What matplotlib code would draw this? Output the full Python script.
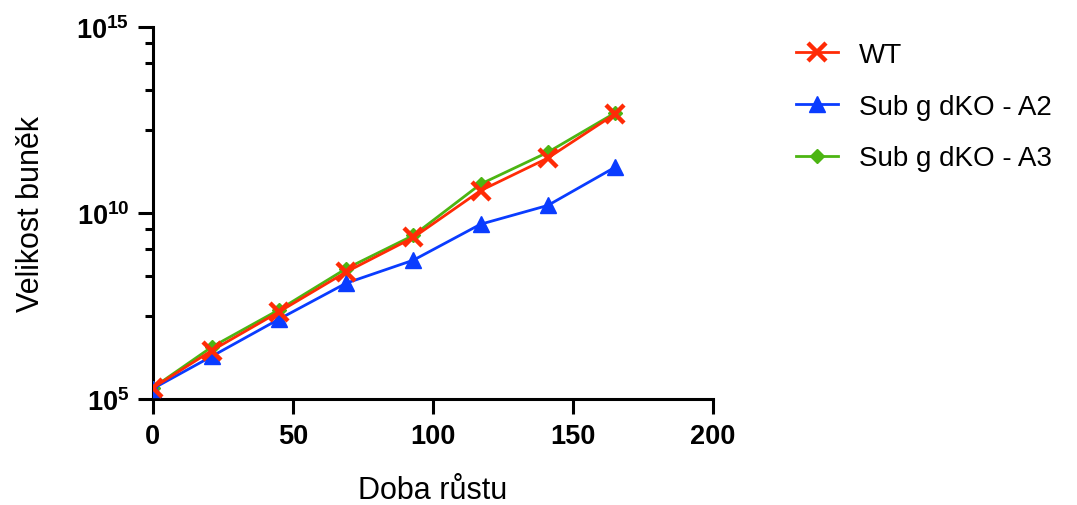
import numpy as np
import matplotlib
matplotlib.use("Agg")
import matplotlib.pyplot as plt
from matplotlib.ticker import FixedLocator, FixedFormatter, NullFormatter

plt.rcParams['font.family'] = ['Liberation Sans', 'DejaVu Sans']
plt.rcParams['mathtext.fontset'] = 'custom'
plt.rcParams['mathtext.rm'] = 'Liberation Sans'
plt.rcParams['mathtext.bf'] = 'Liberation Sans:bold'

# Data
hours = [0, 21, 45, 69, 93, 117, 141, 165]
wt = [2.0e5, 2.0e6, 2.2e7, 2.6e8, 2.2e9, 4.0e10, 3.0e11, 4.6e12]
a2 = [1.9e5, 1.4e6, 1.4e7, 1.3e8, 5.4e8, 5.0e9, 1.6e10, 1.7e11]
a3 = [2.0e5, 2.5e6, 2.5e7, 3.2e8, 2.5e9, 6.0e10, 4.3e11, 4.9e12]
series_labels = ["WT", "Sub g dKO - A2", "Sub g dKO - A3"]
x_ticks = [0, 50, 100, 150, 200]
y_major = [1e5, 1e10, 1e15]
y_major_labels = [r'$\mathbf{10^{5}}$', r'$\mathbf{10^{10}}$', r'$\mathbf{10^{15}}$']
x_label = "Doba růstu"
y_label = "Velikost buněk"

c_wt = '#FF2B06'
c_a2 = '#0A3CFF'
c_a3 = '#4CB512'

fig = plt.figure(figsize=(10.77, 5.06), dpi=100)
ax = fig.add_axes([0.142, 0.2095, 0.520, 0.735])

h3, = ax.plot(hours, a3, color=c_a3, lw=2.0, marker='D', ms=7, mec=c_a3, mfc=c_a3, zorder=3)
h2, = ax.plot(hours, a2, color=c_a2, lw=2.0, marker='^', ms=11, mec=c_a2, mfc=c_a2, zorder=4)
h1, = ax.plot(hours, wt, color=c_wt, lw=2.0, marker='x', ms=13, mew=3.2, mec=c_wt, zorder=5)

ax.set_yscale('log')
ax.set_ylim(1e5, 1e15)
ax.set_xlim(0, 200)

ax.xaxis.set_major_locator(FixedLocator(x_ticks))
ax.xaxis.set_minor_locator(FixedLocator([]))
ax.yaxis.set_major_locator(FixedLocator(y_major))
ax.yaxis.set_major_formatter(FixedFormatter(y_major_labels))
minor = []
for a in (5, 10):
    for j in range(1, 5):
        minor.append(10 ** (a + 5 * np.log10(1 + 1.8 * j)))
ax.yaxis.set_minor_locator(FixedLocator(minor))
ax.yaxis.set_minor_formatter(NullFormatter())

for s in ('top', 'right'):
    ax.spines[s].set_visible(False)
for s in ('left', 'bottom'):
    ax.spines[s].set_linewidth(2.2)
    ax.spines[s].set_capstyle('projecting')

ax.tick_params(which='major', length=11, width=2.2, direction='out', pad=6)
ax.tick_params(which='minor', length=5.5, width=2.2, direction='out')
for lab in ax.get_xticklabels():
    lab.set_fontweight('bold')
    lab.set_fontsize(19.5)
for lab in ax.get_yticklabels():
    lab.set_fontsize(19.5)

ax.set_xlabel(x_label, fontsize=22, labelpad=19)
ax.set_ylabel(y_label, fontsize=22, labelpad=22)

leg = fig.legend([h1, h2, h3], series_labels, loc='upper left',
                 bbox_to_anchor=(0.716, 0.964), frameon=False, fontsize=20,
                 handlelength=1.5, handletextpad=0.75, labelspacing=0.92)

fig.savefig('out.png', dpi=100)
